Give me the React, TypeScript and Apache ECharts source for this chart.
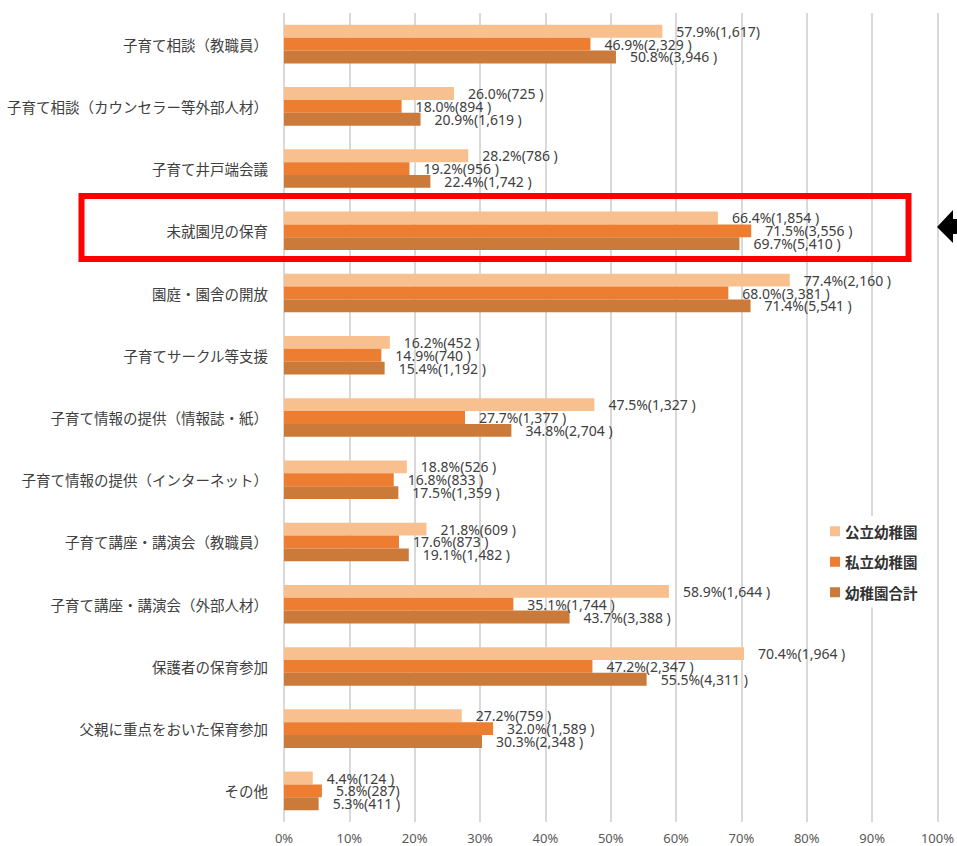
import React, { useEffect, useRef } from "react";
import * as echarts from "echarts";

const categories = [
  "子育て相談（教職員）",
  "子育て相談（カウンセラー等外部人材）",
  "子育て井戸端会議",
  "未就園児の保育",
  "園庭・園舎の開放",
  "子育てサークル等支援",
  "子育て情報の提供（情報誌・紙）",
  "子育て情報の提供（インターネット）",
  "子育て講座・講演会（教職員）",
  "子育て講座・講演会（外部人材）",
  "保護者の保育参加",
  "父親に重点をおいた保育参加",
  "その他",
];

const seriesNames = ["公立幼稚園", "私立幼稚園", "幼稚園合計"];

const publicPct = [57.9, 26.0, 28.2, 66.4, 77.4, 16.2, 47.5, 18.8, 21.8, 58.9, 70.4, 27.2, 4.4];
const privatePct = [46.9, 18.0, 19.2, 71.5, 68.0, 14.9, 27.7, 16.8, 17.6, 35.1, 47.2, 32.0, 5.8];
const totalPct = [50.8, 20.9, 22.4, 69.7, 71.4, 15.4, 34.8, 17.5, 19.1, 43.7, 55.5, 30.3, 5.3];

const publicCount = ["1,617", "725 ", "786 ", "1,854 ", "2,160 ", "452 ", "1,327 ", "526 ", "609 ", "1,644 ", "1,964 ", "759 ", "124 "];
const privateCount = ["2,329 ", "894 ", "956 ", "3,556 ", "3,381 ", "740 ", "1,377 ", "833 ", "873 ", "1,744 ", "2,347 ", "1,589 ", "287"];
const totalCount = ["3,946 ", "1,619 ", "1,742 ", "5,410 ", "5,541 ", "1,192 ", "2,704 ", "1,359 ", "1,482 ", "3,388 ", "4,311 ", "2,348 ", "411 "];

const xTicks = [0, 10, 20, 30, 40, 50, 60, 70, 80, 90, 100];

const colors = ["#F8BF8F", "#ED7D31", "#CB7A3A"];

export default function App() {
  const ref = useRef<HTMLDivElement>(null);
  useEffect(() => {
    if (!ref.current) return;
    const chart = echarts.init(ref.current, null, { renderer: "svg" });
    const pcts = [publicPct, privatePct, totalPct];
    const counts = [publicCount, privateCount, totalCount];
    const series = seriesNames.map((name, si) => ({
      name,
      type: "bar",
      data: pcts[si],
      barGap: "0%",
      barCategoryGap: "38%",
      itemStyle: { color: colors[si] },
      label: {
        show: true,
        position: "right",
        distance: 14,
        color: "#404040",
        fontSize: 14,
        lineHeight: 13,
        fontFamily: "Noto Sans",
        formatter: (p: any) => `${pcts[si][p.dataIndex].toFixed(1)}%(${counts[si][p.dataIndex]})`,
      },
    }));
    chart.setOption({
      animation: false,
      backgroundColor: "#ffffff",
      color: colors,
      grid: { left: 284, right: 19, top: 13, bottom: 24, containLabel: false },
      legend: {
        data: seriesNames,
        orient: "vertical",
        left: 822,
        top: 516,
        padding: [8, 8, 8, 8],
        backgroundColor: "#ffffff",
        itemWidth: 10,
        itemHeight: 10,
        itemGap: 16,
        icon: "rect",
        textStyle: { fontSize: 14.5, color: "#333333", fontWeight: "bold", fontFamily: "Noto Sans CJK JP" },
      },
      xAxis: {
        type: "value",
        min: xTicks[0],
        max: xTicks[xTicks.length - 1],
        interval: 10,
        axisLine: { show: false },
        axisTick: { show: false },
        axisLabel: { formatter: "{value}%", fontSize: 13, color: "#595959", margin: 9, fontFamily: "Noto Sans" },
        splitLine: { show: true, lineStyle: { color: "#D9D9D9", width: 2 } },
      },
      yAxis: {
        type: "category",
        data: categories,
        inverse: true,
        axisLine: { show: false },
        axisTick: { show: false },
        axisLabel: { fontSize: 14.5, color: "#404040", margin: 16, fontFamily: "Noto Sans CJK JP" },
      },
      series,
      graphic: [
        {
          type: "rect",
          shape: { x: 81.5, y: 196, width: 827, height: 63 },
          style: { fill: "none", stroke: "#FF0000", lineWidth: 6 },
          z: 100,
        },
        {
          type: "polygon",
          shape: {
            points: [
              [937, 227],
              [953, 210],
              [953, 219],
              [975, 219],
              [975, 234],
              [953, 234],
              [953, 243],
            ],
          },
          style: { fill: "#000000" },
          z: 100,
        },
      ],
    });
    return () => chart.dispose();
  }, []);
  return (
    <div
      ref={ref}
      style={{ position: "fixed", left: 0, top: 0, width: 957, height: 846, background: "#fff" }}
    />
  );
}
